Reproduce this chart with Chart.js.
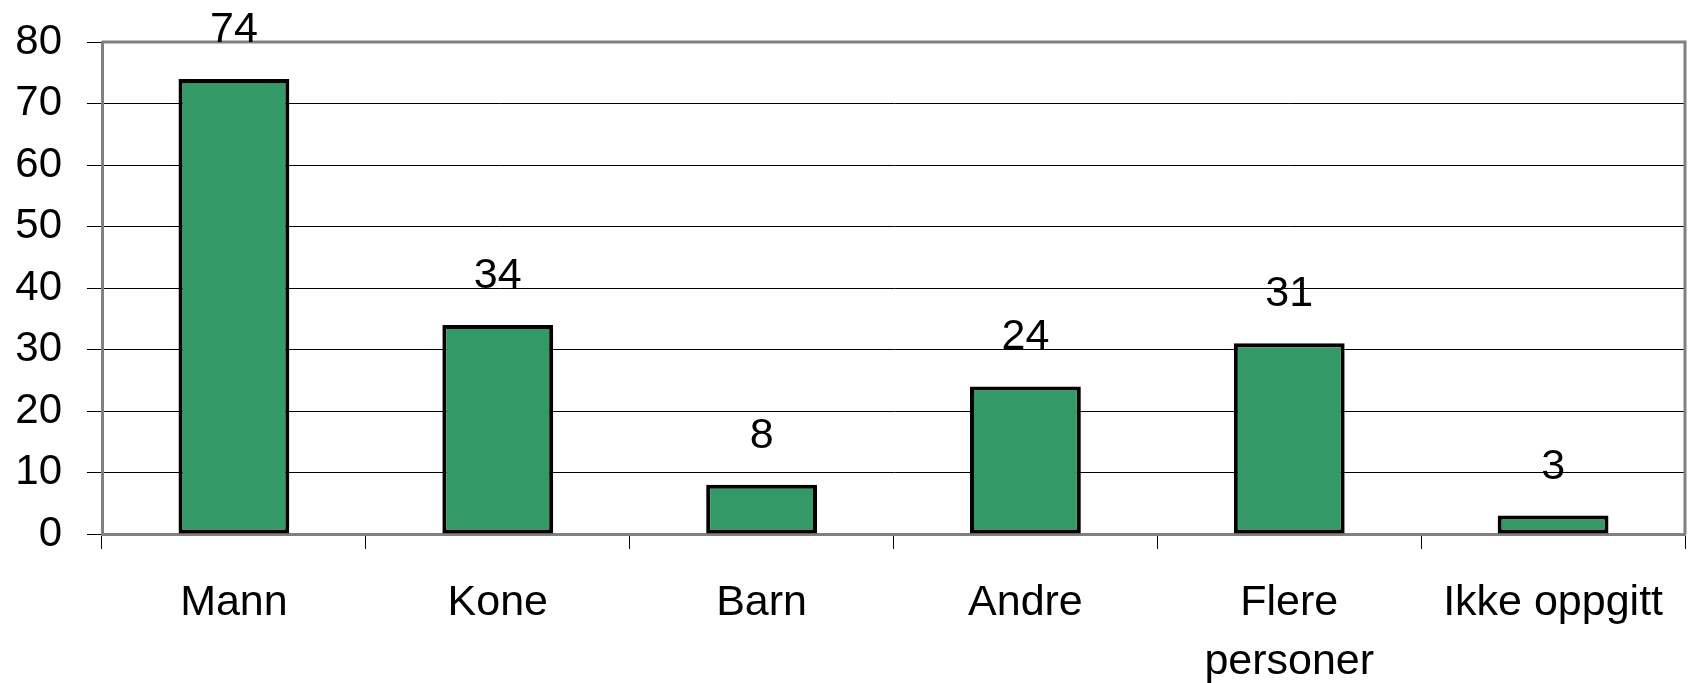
<!DOCTYPE html>
<html>
<head>
<meta charset="utf-8">
<script src="https://cdn.jsdelivr.net/npm/chart.js@4"></script>
<style>
  html, body { margin: 0; padding: 0; background: #fff; }
  #wrap { width: 1692px; height: 683px; }
</style>
</head>
<body>
<div id="wrap"><canvas id="chart" width="1692" height="683"></canvas></div>
<script>
// ── Data ───────────────────────────────────────────────
const categories = ['Mann', 'Kone', 'Barn', 'Andre', ['Flere', 'personer'], 'Ikke oppgitt'];
const counts     = [74, 34, 8, 24, 31, 3];
const yTicks     = [0, 10, 20, 30, 40, 50, 60, 70, 80];

const FONT = { family: '"Liberation Sans", Arial, sans-serif', size: 43, lineHeight: 1.38 };
const GREY = '#808080';

// value labels above bars
const valueLabels = {
  id: 'valueLabels',
  afterDatasetsDraw: function(chart) {
    const ctx  = chart.ctx;
    const meta = chart.getDatasetMeta(0);
    ctx.save();
    ctx.font = FONT.size + 'px ' + FONT.family;
    ctx.fillStyle = '#000';
    ctx.textAlign = 'center';
    ctx.textBaseline = 'alphabetic';
    meta.data.forEach(function(bar, i) {
      ctx.fillText(String(counts[i]), bar.x, bar.y - 37);
    });
    ctx.restore();
  }
};

// grey frame on top and right of the plot area
const frame = {
  id: 'frame',
  beforeDatasetsDraw: function(chart) {
    const a = chart.chartArea;
    const ctx = chart.ctx;
    ctx.save();
    ctx.strokeStyle = GREY;
    ctx.lineWidth = 3;
    ctx.beginPath();
    ctx.moveTo(a.left, a.top);
    ctx.lineTo(a.right, a.top);
    ctx.lineTo(a.right, a.bottom);
    ctx.stroke();
    ctx.restore();
  }
};

new Chart(document.getElementById('chart'), {
  type: 'bar',
  data: {
    labels: categories,
    datasets: [{
      data: counts,
      backgroundColor: '#339966',
      borderColor: '#000000',
      borderWidth: 4,
      borderSkipped: false,
      barPercentage: 0.42,
      categoryPercentage: 1,
    }]
  },
  options: {
    responsive: false,
    animation: false,
    devicePixelRatio: 1,
    layout: { padding: { top: 42, right: 7, left: 0, bottom: 0 } },
    plugins: {
      legend: { display: false },
      tooltip: { enabled: false },
    },
    scales: {
      x: {
        offset: true,
        grid: { offset: true, drawOnChartArea: false, color: '#000', tickLength: 15, lineWidth: 1 },
        border: { color: GREY, width: 3 },
        ticks: { color: '#000', font: FONT, padding: 24, maxRotation: 0, autoSkip: false },
        afterFit: function(s) { s.height = 149; },
      },
      y: {
        min: 0,
        max: 80,
        afterBuildTicks: function(s) { s.ticks = yTicks.map(function(v) { return { value: v }; }); },
        grid: { color: '#000', lineWidth: 1, tickLength: 15 },
        border: { color: GREY, width: 3 },
        ticks: { color: '#000', font: { family: FONT.family, size: 42 }, padding: 25 },
        afterFit: function(s) { s.width = 102; s.paddingTop = 0; s.paddingBottom = 0; },
      }
    }
  },
  plugins: [frame, valueLabels]
});
</script>
</body>
</html>
